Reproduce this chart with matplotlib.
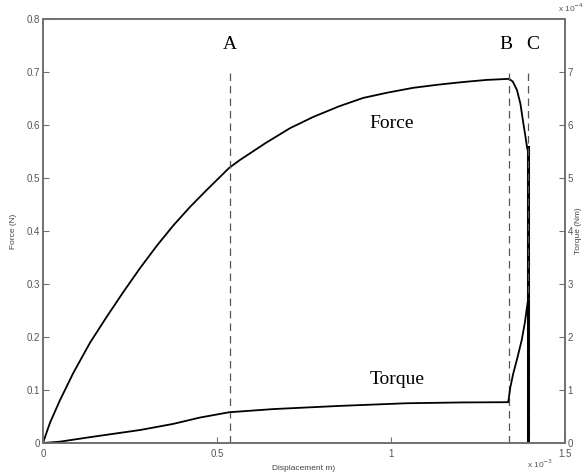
import matplotlib
matplotlib.use('Agg')
import matplotlib.pyplot as plt

# displacement values in units of 1e-3 m
force_x = [0, 0.020, 0.049, 0.087, 0.135, 0.183, 0.231, 0.279, 0.327, 0.374,
           0.422, 0.470, 0.535, 0.566, 0.640, 0.710, 0.776, 0.850, 0.920, 0.990,
           1.063, 1.135, 1.207, 1.275, 1.339, 1.350, 1.362, 1.372, 1.379,
           1.386, 1.391, 1.394, 1.394]
force_y = [0, 0.038, 0.081, 0.132, 0.189, 0.238, 0.285, 0.330, 0.372, 0.410,
           0.445, 0.477, 0.519, 0.534, 0.566, 0.594, 0.615, 0.635, 0.651, 0.661,
           0.670, 0.676, 0.681, 0.685, 0.687, 0.682, 0.666, 0.640, 0.609,
           0.580, 0.558, 0.550, 0.0]

# torque in units of the right axis multiplier
torque_x = [0, 0.049, 0.135, 0.279, 0.374, 0.451, 0.535, 0.662, 0.853, 1.045,
            1.200, 1.337, 1.343, 1.351, 1.363, 1.376, 1.385, 1.391, 1.394, 1.394]
torque_y = [0, 0.025, 0.11, 0.245, 0.36, 0.48, 0.58, 0.64, 0.70, 0.75,
            0.765, 0.77, 1.05, 1.30, 1.60, 1.95, 2.28, 2.57, 2.70, 0.0]

markers_x = [0.537, 1.339, 1.394]
markers_lbl = ['A', 'B', 'C']
label_x = [0.537, 1.330, 1.408]

grey = '#707070'
fig = plt.figure(figsize=(5.84, 4.74), dpi=100)
ax = fig.add_axes([0.0736, 0.0654, 0.8938, 0.8946])
ax2 = ax.twinx()

ax.plot(force_x, force_y, color='black', lw=1.3)
ax2.plot(torque_x, torque_y, color='black', lw=1.3)
ax.plot([1.394, 1.394], [0, 0.558], color='black', lw=2.2)

for xv, lx, lbl in zip(markers_x, label_x, markers_lbl):
    ax.plot([xv, xv], [0, 0.706], color='#555555', lw=0.9, ls=(0, (6, 4)))
    ax.text(lx, 0.751, lbl, ha='center', va='center', fontsize=14,
            family='Liberation Serif')

ax.text(1.003, 0.603, 'Force', ha='center', va='center', fontsize=14,
        family='Liberation Serif')
ax.text(1.017, 0.119, 'Torque', ha='center', va='center', fontsize=14,
        family='Liberation Serif')

ax.set_xlim(0, 1.5)
ax.set_ylim(0, 0.8)
ax2.set_ylim(0, 8)
ax.set_xticks([0, 0.5, 1, 1.5])
ax.set_xticklabels(['0', '0.5', '1', '1.5'])
ax.set_yticks([0, 0.1, 0.2, 0.3, 0.4, 0.5, 0.6, 0.7, 0.8])
ax.set_yticklabels(['0', '0.1', '0.2', '0.3', '0.4', '0.5', '0.6', '0.7', '0.8'])
ax2.set_yticks([0, 1, 2, 3, 4, 5, 6, 7])

for a in (ax, ax2):
    a.tick_params(direction='in', length=4, width=0.8, color=grey,
                  labelsize=7, labelcolor='#555555', pad=2)
    for s in a.spines.values():
        s.set_color(grey)
        s.set_linewidth(1.2)
    for t in a.get_xticklabels() + a.get_yticklabels():
        t.set_family('Liberation Sans')
ax.tick_params(axis='x', pad=4.5)

ax.set_xlabel('Displacement m)', fontsize=6, color='#444444', labelpad=4,
              family='Liberation Sans')
ax.set_ylabel('Force (N)', fontsize=6, color='#444444', labelpad=7,
              family='Liberation Sans')
ax2.set_ylabel('Torque (Nm)', fontsize=6, color='#444444', labelpad=1,
               family='Liberation Sans')

fig.text(0.902, 0.012, r'x 10$^{-3}$', fontsize=6, color='#555555',
         family='Liberation Sans')
fig.text(0.955, 0.975, r'x 10$^{-4}$', fontsize=6, color='#555555',
         family='Liberation Sans')

fig.savefig('out.png', dpi=100)
